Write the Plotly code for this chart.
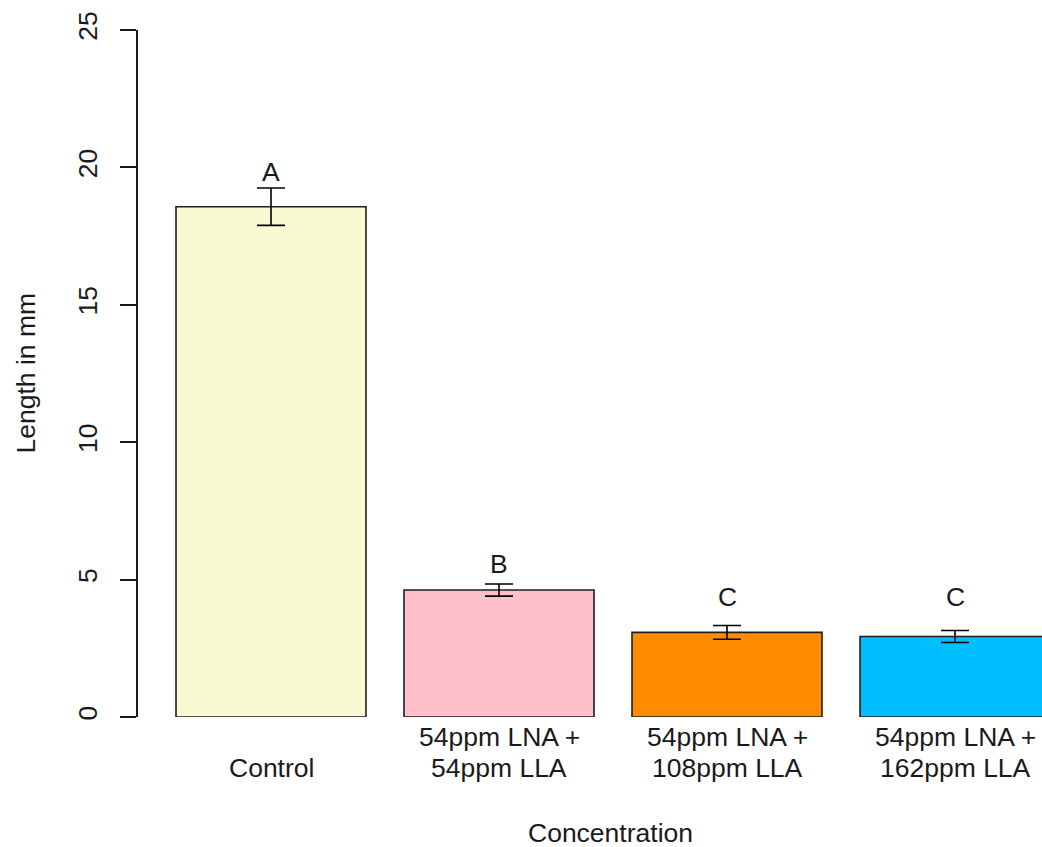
import plotly.graph_objects as go

# Root length per treatment (mean ± error)
categories = ["Control", "54ppm LNA +\n54ppm LLA", "54ppm LNA +\n108ppm LLA", "54ppm LNA +\n162ppm LLA"]
means = [18.57, 4.62, 3.08, 2.93]
errors = [0.68, 0.22, 0.25, 0.22]
letters = ["A", "B", "C", "C"]
letter_y = [19.85, 5.55, 4.35, 4.35]
colors = ["#FAFAD2", "#FFC0CB", "#FF8C00", "#00BFFF"]

FONT = "Liberation Sans, Arial, sans-serif"
FS = 26.5

# barplot layout: unit-width bars separated by 0.2
centers = [0.7 + 1.2 * i for i in range(len(categories))]

L, R, T, B = 138, 0, 30, 130
PW = 1042 - L - R

fig = go.Figure()
fig.add_trace(go.Bar(
    x=centers, y=means, width=1.0,
    marker=dict(color=colors, line=dict(color="#1e1e1e", width=1.6)),
    error_y=dict(type="data", array=errors, visible=True,
                 color="black", thickness=1.6, width=14),
    showlegend=False, hoverinfo="skip",
))

annotations = []
for xc, lab, ly in zip(centers, letters, letter_y):
    annotations.append(dict(x=xc, y=ly, xref="x", yref="y", text=lab,
                            showarrow=False, xanchor="center", yanchor="middle",
                            font=dict(family=FONT, size=FS, color="#1a1a1a")))

# category labels below the bars, last line aligned on the lower row
for xc, cat in zip(centers, categories):
    lines = cat.split("\n")
    n = len(lines)
    for k, line in enumerate(lines):
        row = 2 - (n - k) + 1  # 1 = upper row, 2 = lower row
        shift = -20 if row == 1 else -51
        annotations.append(dict(x=xc, y=0, xref="x", yref="paper", text=line,
                                showarrow=False, xanchor="center", yanchor="middle",
                                yshift=shift,
                                font=dict(family=FONT, size=FS, color="#1a1a1a")))

annotations.append(dict(x=(610 - L) / PW, y=0, xref="paper", yref="paper",
                        text="Concentration", showarrow=False,
                        xanchor="center", yanchor="middle", yshift=-116,
                        font=dict(family=FONT, size=FS, color="#1a1a1a")))
annotations.append(dict(x=(25 - L) / PW, y=0.5, xref="paper", yref="paper",
                        text="Length in mm", showarrow=False, textangle=-90,
                        xanchor="center", yanchor="middle",
                        font=dict(family=FONT, size=FS, color="#1a1a1a")))

fig.update_layout(
    width=1042, height=847,
    margin=dict(l=L, r=R, t=T, b=B),
    paper_bgcolor="white", plot_bgcolor="white",
    annotations=annotations,
    xaxis=dict(range=[0, PW / 190.0], showticklabels=False, showgrid=False,
               zeroline=False, showline=False, ticks=""),
    yaxis=dict(range=[0, 25], tickvals=[0, 5, 10, 15, 20, 25],
               tickangle=-90, ticks="outside", ticklen=16, tickwidth=1.5,
               tickcolor="#1a1a1a", showline=True, linecolor="#1a1a1a",
               linewidth=1.5, showgrid=False, zeroline=False,
               ticklabelstandoff=13,
               tickfont=dict(family=FONT, size=FS, color="#1a1a1a")),
    font=dict(family=FONT, size=FS, color="#1a1a1a"),
)

fig.write_html("out.html")
